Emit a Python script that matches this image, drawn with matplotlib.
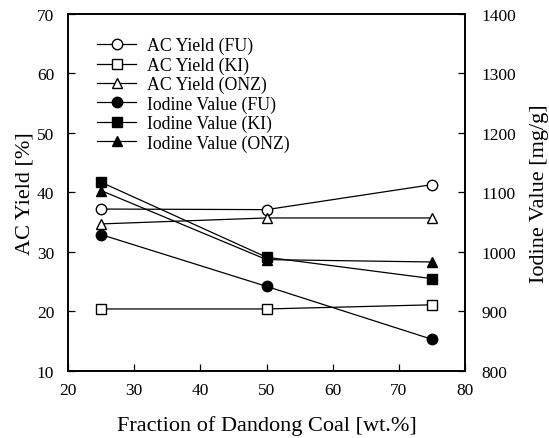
import matplotlib.pyplot as plt

plt.rcParams['font.family'] = ['Liberation Serif', 'DejaVu Serif']

# fraction of Dandong coal [wt.%]
frac = [25, 50, 75]

# AC yield [%]
ac_fu = [37.2, 37.1, 41.3]
ac_ki = [20.4, 20.4, 21.1]
ac_onz = [34.7, 35.7, 35.7]

# iodine value [mg/g]
iod_fu = [1029, 942, 853]
iod_ki = [1117, 991, 955]
iod_onz = [1103, 987, 983]

fig = plt.figure(figsize=(5.49, 4.39), dpi=100)
ax = fig.add_axes([0.124, 0.153, 0.723, 0.813])
ax2 = ax.twinx()

kw = dict(color='black', lw=0.9, ms=7.5, mec='black')
h1, = ax.plot(frac, ac_fu, marker='o', mfc='white', label='AC Yield (FU)', **kw)
h2, = ax.plot(frac, ac_ki, marker='s', mfc='white', label='AC Yield (KI)', **kw)
h3, = ax.plot(frac, ac_onz, marker='^', mfc='white', label='AC Yield (ONZ)', **kw)
h4, = ax2.plot(frac, iod_fu, marker='o', mfc='black', label='Iodine Value (FU)', **kw)
h5, = ax2.plot(frac, iod_ki, marker='s', mfc='black', label='Iodine Value (KI)', **kw)
h6, = ax2.plot(frac, iod_onz, marker='^', mfc='black', label='Iodine Value (ONZ)', **kw)

ax.set_xlim(20, 80)
ax.set_ylim(10, 70)
ax2.set_ylim(800, 1400)
ax.set_xticks(range(20, 81, 10))
ax.set_yticks(range(10, 71, 10))
ax2.set_yticks(range(800, 1401, 100))

ax.tick_params(direction='in', labelsize=12.5, length=5, width=0.9, pad=10)
ax.tick_params(axis='x', pad=8)
ax2.tick_params(direction='in', labelsize=12.5, length=5, width=0.9, pad=12)
for a in (ax, ax2):
    for s in a.spines.values():
        s.set_linewidth(1.2)

ax.set_xlabel('Fraction of Dandong Coal [wt.%]', fontsize=16, labelpad=12)
ax.set_ylabel('AC Yield [%]', fontsize=16, labelpad=2)
ax2.set_ylabel('Iodine Value [mg/g]', fontsize=16, labelpad=10)

ax2.legend(handles=[h1, h2, h3, h4, h5, h6], loc='upper left',
           bbox_to_anchor=(0.055, 0.955), frameon=False, fontsize=12.8,
           handlelength=2.2, handletextpad=0.6, labelspacing=0.12,
           borderaxespad=0)

fig.savefig('out.png', dpi=100)
